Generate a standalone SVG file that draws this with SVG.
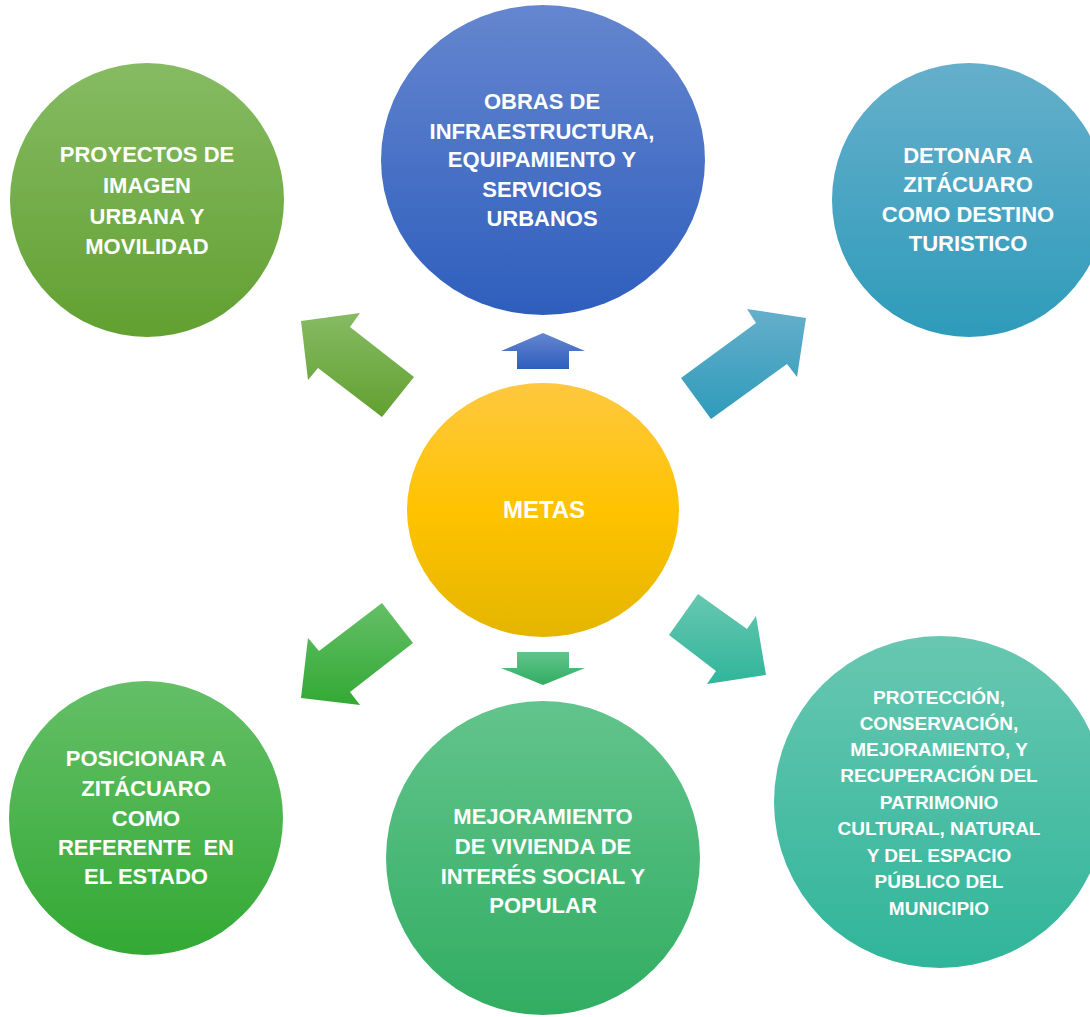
<svg xmlns="http://www.w3.org/2000/svg" width="1090" height="1017" viewBox="0 0 1090 1017">
<style>
text{font-family:"Liberation Sans",Arial,sans-serif;font-weight:bold;fill:#ffffff;text-anchor:middle;font-size:22px}
.sm{font-size:19px}
.lg{font-size:24px}
</style>
<defs>
<linearGradient id="gTL" x1="0" y1="0" x2="0" y2="1"><stop offset="0" stop-color="#86bb63"/><stop offset="1" stop-color="#62a031"/></linearGradient>
<linearGradient id="gTC" x1="0" y1="0" x2="0" y2="1"><stop offset="0" stop-color="#6586cf"/><stop offset="1" stop-color="#2e5ebd"/></linearGradient>
<linearGradient id="gTR" x1="0" y1="0" x2="0" y2="1"><stop offset="0" stop-color="#65afcb"/><stop offset="1" stop-color="#2e9bba"/></linearGradient>
<linearGradient id="gC" x1="0" y1="0" x2="0" y2="1"><stop offset="0" stop-color="#fec840"/><stop offset="0.5" stop-color="#ffc300"/><stop offset="1" stop-color="#e4b500"/></linearGradient>
<linearGradient id="gBL" x1="0" y1="0" x2="0" y2="1"><stop offset="0" stop-color="#64bf67"/><stop offset="1" stop-color="#33a934"/></linearGradient>
<linearGradient id="gBC" x1="0" y1="0" x2="0" y2="1"><stop offset="0" stop-color="#62c48c"/><stop offset="1" stop-color="#31ad62"/></linearGradient>
<linearGradient id="gBR" x1="0" y1="0" x2="0" y2="1"><stop offset="0" stop-color="#68c7b1"/><stop offset="1" stop-color="#30b59a"/></linearGradient>
</defs>
<g id="connectors">
<polygon fill="url(#gTL)" points="301,321 360,313 350,327 414,377 382,417 318,368 308,380"/>
<polygon fill="url(#gTC)" points="543,333 585,351 569,351 569,369 517,369 517,351 501,351"/>
<polygon fill="url(#gTR)" points="806,318 797,377 787,364 711,419 681,378 756,323 747,309"/>
<polygon fill="url(#gBL)" points="301,698 308,638 319,651 382,603 413,643 350,692 360,705"/>
<polygon fill="url(#gBC)" points="517,652 569,652 569,668 585,668 543,685 501,668 517,668"/>
<polygon fill="url(#gBR)" points="766,675 707,684 716,671 669,635 698,594 747,629 756,616"/>
</g>
<g id="node-imagen">
<circle cx="147" cy="200" r="137" fill="url(#gTL)"/>
<text x="147" y="162">PROYECTOS DE</text>
<text x="147" y="193">IMAGEN</text>
<text x="147" y="224">URBANA Y</text>
<text x="147" y="254">MOVILIDAD</text>
</g>
<g id="node-obras">
<ellipse cx="543" cy="160" rx="162" ry="155" fill="url(#gTC)"/>
<text x="542" y="109">OBRAS DE</text>
<text x="542" y="139">INFRAESTRUCTURA,</text>
<text x="542" y="167">EQUIPAMIENTO Y</text>
<text x="542" y="197">SERVICIOS</text>
<text x="542" y="226">URBANOS</text>
</g>
<g id="node-turistico">
<circle cx="969" cy="200" r="137" fill="url(#gTR)"/>
<text x="968" y="163">DETONAR A</text>
<text x="968" y="192">ZITÁCUARO</text>
<text x="968" y="222">COMO DESTINO</text>
<text x="968" y="251">TURISTICO</text>
</g>
<g id="node-metas">
<ellipse cx="543" cy="510" rx="136" ry="127" fill="url(#gC)"/>
<text class="lg" x="544" y="518">METAS</text>
</g>
<g id="node-posicionar">
<circle cx="146" cy="818" r="137" fill="url(#gBL)"/>
<text x="146" y="766">POSICIONAR A</text>
<text x="146" y="796">ZITÁCUARO</text>
<text x="146" y="826">COMO</text>
<text x="146" y="855" xml:space="preserve">REFERENTE  EN</text>
<text x="146" y="884">EL ESTADO</text>
</g>
<g id="node-vivienda">
<ellipse cx="543" cy="858" rx="157" ry="157" fill="url(#gBC)"/>
<text x="543" y="824">MEJORAMIENTO</text>
<text x="543" y="854">DE VIVIENDA DE</text>
<text x="543" y="884">INTERÉS SOCIAL Y</text>
<text x="543" y="913">POPULAR</text>
</g>
<g id="node-patrimonio">
<circle cx="940" cy="802" r="166" fill="url(#gBR)"/>
<text class="sm" x="939" y="704">PROTECCIÓN,</text>
<text class="sm" x="939" y="730">CONSERVACIÓN,</text>
<text class="sm" x="939" y="756">MEJORAMIENTO, Y</text>
<text class="sm" x="939" y="782">RECUPERACIÓN DEL</text>
<text class="sm" x="939" y="809">PATRIMONIO</text>
<text class="sm" x="939" y="835">CULTURAL, NATURAL</text>
<text class="sm" x="939" y="862">Y DEL ESPACIO</text>
<text class="sm" x="939" y="888">PÚBLICO DEL</text>
<text class="sm" x="939" y="915">MUNICIPIO</text>
</g>
</svg>
